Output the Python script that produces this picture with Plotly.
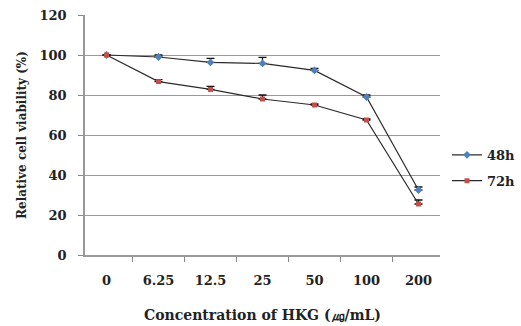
import plotly.graph_objects as go

categories = ["0", "6.25", "12.5", "25", "50", "100", "200"]
v48 = [100, 99, 96.3, 95.8, 92.3, 79, 32.5]
e48 = [0, 1, 2, 3, 1, 1, 1.5]
v72 = [100, 86.7, 82.8, 78, 75, 67.5, 25.5]
e72 = [0, 1, 1.5, 2, 0.5, 0.5, 2]
yticks = [0, 20, 40, 60, 80, 100, 120]

font = "DejaVu Serif"

fig = go.Figure()
fig.add_trace(go.Scatter(
    x=categories, y=v48, name="<b>48h</b>", mode="lines+markers", legendgroup="a",
    line=dict(color="#2a2a2a", width=1.2),
    marker=dict(symbol="diamond", size=6, color="#4F81BD"),
    error_y=dict(type="data", array=e48, arrayminus=[0]*7, color="#111", thickness=1.3, width=4),
))
fig.add_trace(go.Scatter(
    x=categories, y=v72, name="<b>72h</b>", mode="lines+markers", legendgroup="b",
    line=dict(color="#2a2a2a", width=1.2),
    marker=dict(symbol="square", size=5, color="#C0504D"),
    error_y=dict(type="data", array=e72, arrayminus=[0]*7, color="#111", thickness=1.3, width=4),
))

fig.update_layout(
    width=521, height=326,
    margin=dict(l=85, r=81, t=15, b=71, autoexpand=False),
    paper_bgcolor="white", plot_bgcolor="white",
    font=dict(family=font, size=13, color="#222"),
    showlegend=True,
    legend=dict(xref="container", yref="container", x=0.858, y=0.571,
                xanchor="left", yanchor="top",
                font=dict(family=font, size=13, color="#222"),
                itemwidth=30, tracegroupgap=6, bgcolor="rgba(0,0,0,0)"),
    xaxis=dict(
        type="category", tickson="boundaries", ticks="outside", ticklen=5,
        tickcolor="#888", showline=True, linecolor="#999", linewidth=1.5,
        showgrid=False, tickfont=dict(family=font, size=13, color="#222"),
        ticklabelstandoff=13, automargin=False,
        title=dict(text="<b>Concentration of HKG (㎍/mL)</b>", standoff=23,
                   font=dict(family=font, size=14, color="#222")),
    ),
    yaxis=dict(
        range=[0, 120], tickvals=yticks, ticktext=[f"<b>{t}</b>" for t in yticks],
        ticks="outside", ticklen=5, tickcolor="#888",
        showline=True, linecolor="#999", linewidth=1.5,
        showgrid=True, gridcolor="#999", gridwidth=1.2, zeroline=False,
        tickfont=dict(family=font, size=13, color="#222"),
        ticklabelstandoff=9, automargin=False,
        title=dict(text="<b>Relative cell viability (%)</b>", standoff=10,
                   font=dict(family=font, size=12, color="#222")),
    ),
)
fig.update_xaxes(ticktext=[f"<b>{c}</b>" for c in categories], tickvals=categories)
fig.write_html("out.html")
